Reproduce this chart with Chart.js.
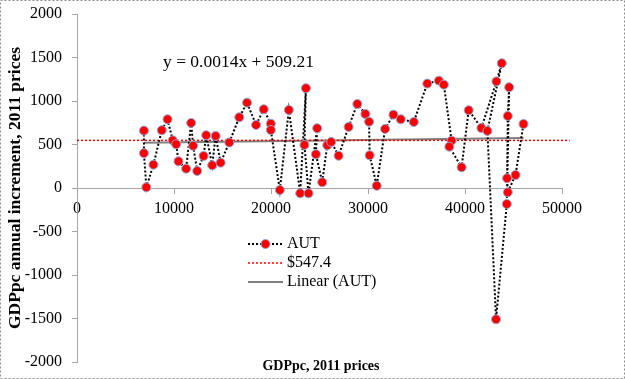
<!DOCTYPE html>
<html>
<head>
<meta charset="utf-8">
<script src="https://cdn.jsdelivr.net/npm/chart.js@4.4.0/dist/chart.umd.min.js"></script>
<style>
    html, body { margin: 0; padding: 0; background: #fff; }
    #wrap { width: 625px; height: 379px; }
</style>
</head>
<body>
<div id="wrap"><canvas id="gdpChart" width="625" height="379"></canvas></div>
<script>
// GDP per capita level (x) and annual increment (y)
const gdppc = [6900, 6900, 7150, 7880, 8740, 9330, 9870, 10220, 10460, 11250,
    11770, 11970, 12390, 13050, 13320, 13940, 14290, 14810, 15700, 16730,
    17530, 18460, 19250, 19980, 19980, 20910, 21840, 23010, 23600, 23450,
    23870, 24760, 24630, 25280, 25800, 26210, 26970, 28000, 28900, 29730,
    30110, 30170, 30900, 31760, 32620, 33380, 34720, 36110, 37310, 37820,
    38620, 38380, 39650, 40380, 41690, 43240, 43790, 42310, 43200, 44310,
    44550, 44410, 44340, 44410, 45210, 46030];
const increment = [660, 400, 8, 268, 664, 790, 548, 503, 307, 222,
    748, 486, 196, 368, 606, 261, 598, 291, 523, 813,
    981, 725, 905, 739, 667, -23, 897, -61, 1147, 495,
    -61, 687, 388, 66, 491, 529, 371, 702, 966, 851,
    762, 376, 26, 679, 843, 790, 759, 1200, 1234, 1188,
    544, 475, 238, 894, 690, 1225, 1434, 656, -1510, -184,
    1158, 828, 112, -49, 150, 736];

const meanIncrement = 547.4;
const meanRange = [0, 50800];
const trendSlope = 0.0014;
const trendIntercept = 509.21;
const seriesLabels = ['AUT', '$547.4', 'Linear (AUT)'];
const equationText = 'y = 0.0014x + 509.21';
const xTitle = 'GDPpc, 2011 prices';
const yTitle = 'GDPpc annual increment, 2011 prices';

const FONT = '"Liberation Serif", "DejaVu Serif", serif';

const autPoints = gdppc.map((x, i) => ({ x: x, y: increment[i] }));
const xMin = Math.min(...gdppc);
const xMax = Math.max(...gdppc);
const trendPoints = [
    { x: xMin, y: trendSlope * xMin + trendIntercept },
    { x: xMax, y: trendSlope * xMax + trendIntercept }
];
const meanPoints = meanRange.map(x => ({ x: x, y: meanIncrement }));

// titles, equation, legend and the dotted frame
const extrasPlugin = {
    id: 'extras',
    afterDraw(chart) {
        const ctx = chart.ctx;
        ctx.save();
        ctx.fillStyle = '#000';

        ctx.font = 'bold 14px ' + FONT;
        ctx.textAlign = 'center';
        ctx.textBaseline = 'middle';
        ctx.fillText(xTitle, 321, 366);

        ctx.font = '17.5px ' + FONT;
        ctx.textAlign = 'left';
        ctx.fillText(equationText, 163, 62);

        // legend
        const lx0 = 248, lx1 = 283, tx = 287;
        const rows = [244, 263, 282];
        const ds = chart.data.datasets;
        rows.forEach((y, i) => {
            ctx.save();
            ctx.strokeStyle = ds[i].borderColor;
            ctx.lineWidth = ds[i].borderWidth;
            ctx.setLineDash(ds[i].borderDash || []);
            ctx.beginPath();
            ctx.moveTo(lx0, y);
            ctx.lineTo(lx1, y);
            ctx.stroke();
            ctx.restore();
            if (i === 0) {
                ctx.beginPath();
                ctx.arc((lx0 + lx1) / 2, y, 4.5, 0, Math.PI * 2);
                ctx.fillStyle = ds[0].pointBackgroundColor;
                ctx.fill();
                ctx.strokeStyle = ds[0].pointBorderColor;
                ctx.lineWidth = 1;
                ctx.stroke();
                ctx.fillStyle = '#000';
            }
            ctx.font = '16px ' + FONT;
            ctx.textBaseline = 'middle';
            ctx.fillText(ds[i].label, tx, y);
        });

        // frame
        ctx.strokeStyle = '#8c8c8c';
        ctx.lineWidth = 1;
        ctx.setLineDash([2, 2]);
        ctx.strokeRect(0.5, 0.5, chart.width - 1, chart.height - 1);
        ctx.restore();
    }
};

const ctx = document.getElementById('gdpChart').getContext('2d');
const gdpChart = new Chart(ctx, {
    type: 'scatter',
    data: {
        datasets: [
            {
                label: seriesLabels[0],
                data: autPoints,
                showLine: true,
                borderColor: '#000000',
                borderWidth: 2,
                borderDash: [2, 2],
                pointRadius: 4.5,
                pointBackgroundColor: '#ff0000',
                pointBorderColor: '#8faadc',
                pointBorderWidth: 1
            },
            {
                label: seriesLabels[1],
                data: meanPoints,
                showLine: true,
                clip: false,
                borderColor: '#ff0000',
                borderWidth: 1.5,
                borderDash: [2, 2],
                pointRadius: 0
            },
            {
                label: seriesLabels[2],
                data: trendPoints,
                showLine: true,
                borderColor: '#808080',
                borderWidth: 2,
                pointRadius: 0
            }
        ]
    },
    options: {
        responsive: false,
        animation: false,
        devicePixelRatio: 1,
        layout: {
            padding: { top: 14, right: 63, bottom: 17, left: 0 }
        },
        plugins: {
            legend: { display: false },
            tooltip: { enabled: false }
        },
        scales: {
            x: {
                type: 'linear',
                min: 0,
                max: 50000,
                position: { y: 0 },
                ticks: {
                    stepSize: 10000,
                    color: '#000',
                    padding: 6,
                    maxRotation: 0,
                    callback: v => String(v),
                    font: { family: FONT, size: 16 }
                },
                grid: {
                    drawOnChartArea: false,
                    tickLength: 5,
                    color: '#a6a6a6'
                },
                border: { color: '#a6a6a6', dash: [2, 2] }
            },
            y: {
                min: -2000,
                max: 2000,
                afterFit: function (scale) {
                    scale.width = 77;
                },
                ticks: {
                    stepSize: 500,
                    color: '#000',
                    padding: 10,
                    callback: v => String(v),
                    // small line height so the end labels don't push the plot inwards
                    font: { family: FONT, size: 16, lineHeight: 0.5 }
                },
                grid: {
                    drawOnChartArea: false,
                    tickLength: 5,
                    color: '#a6a6a6'
                },
                border: { color: '#a6a6a6', dash: [2, 2] },
                title: {
                    display: true,
                    text: yTitle,
                    color: '#000',
                    padding: { top: 5, bottom: 0 },
                    font: { family: FONT, size: 17.5, weight: 'bold' }
                }
            }
        }
    },
    plugins: [extrasPlugin]
});
</script>
</body>
</html>
